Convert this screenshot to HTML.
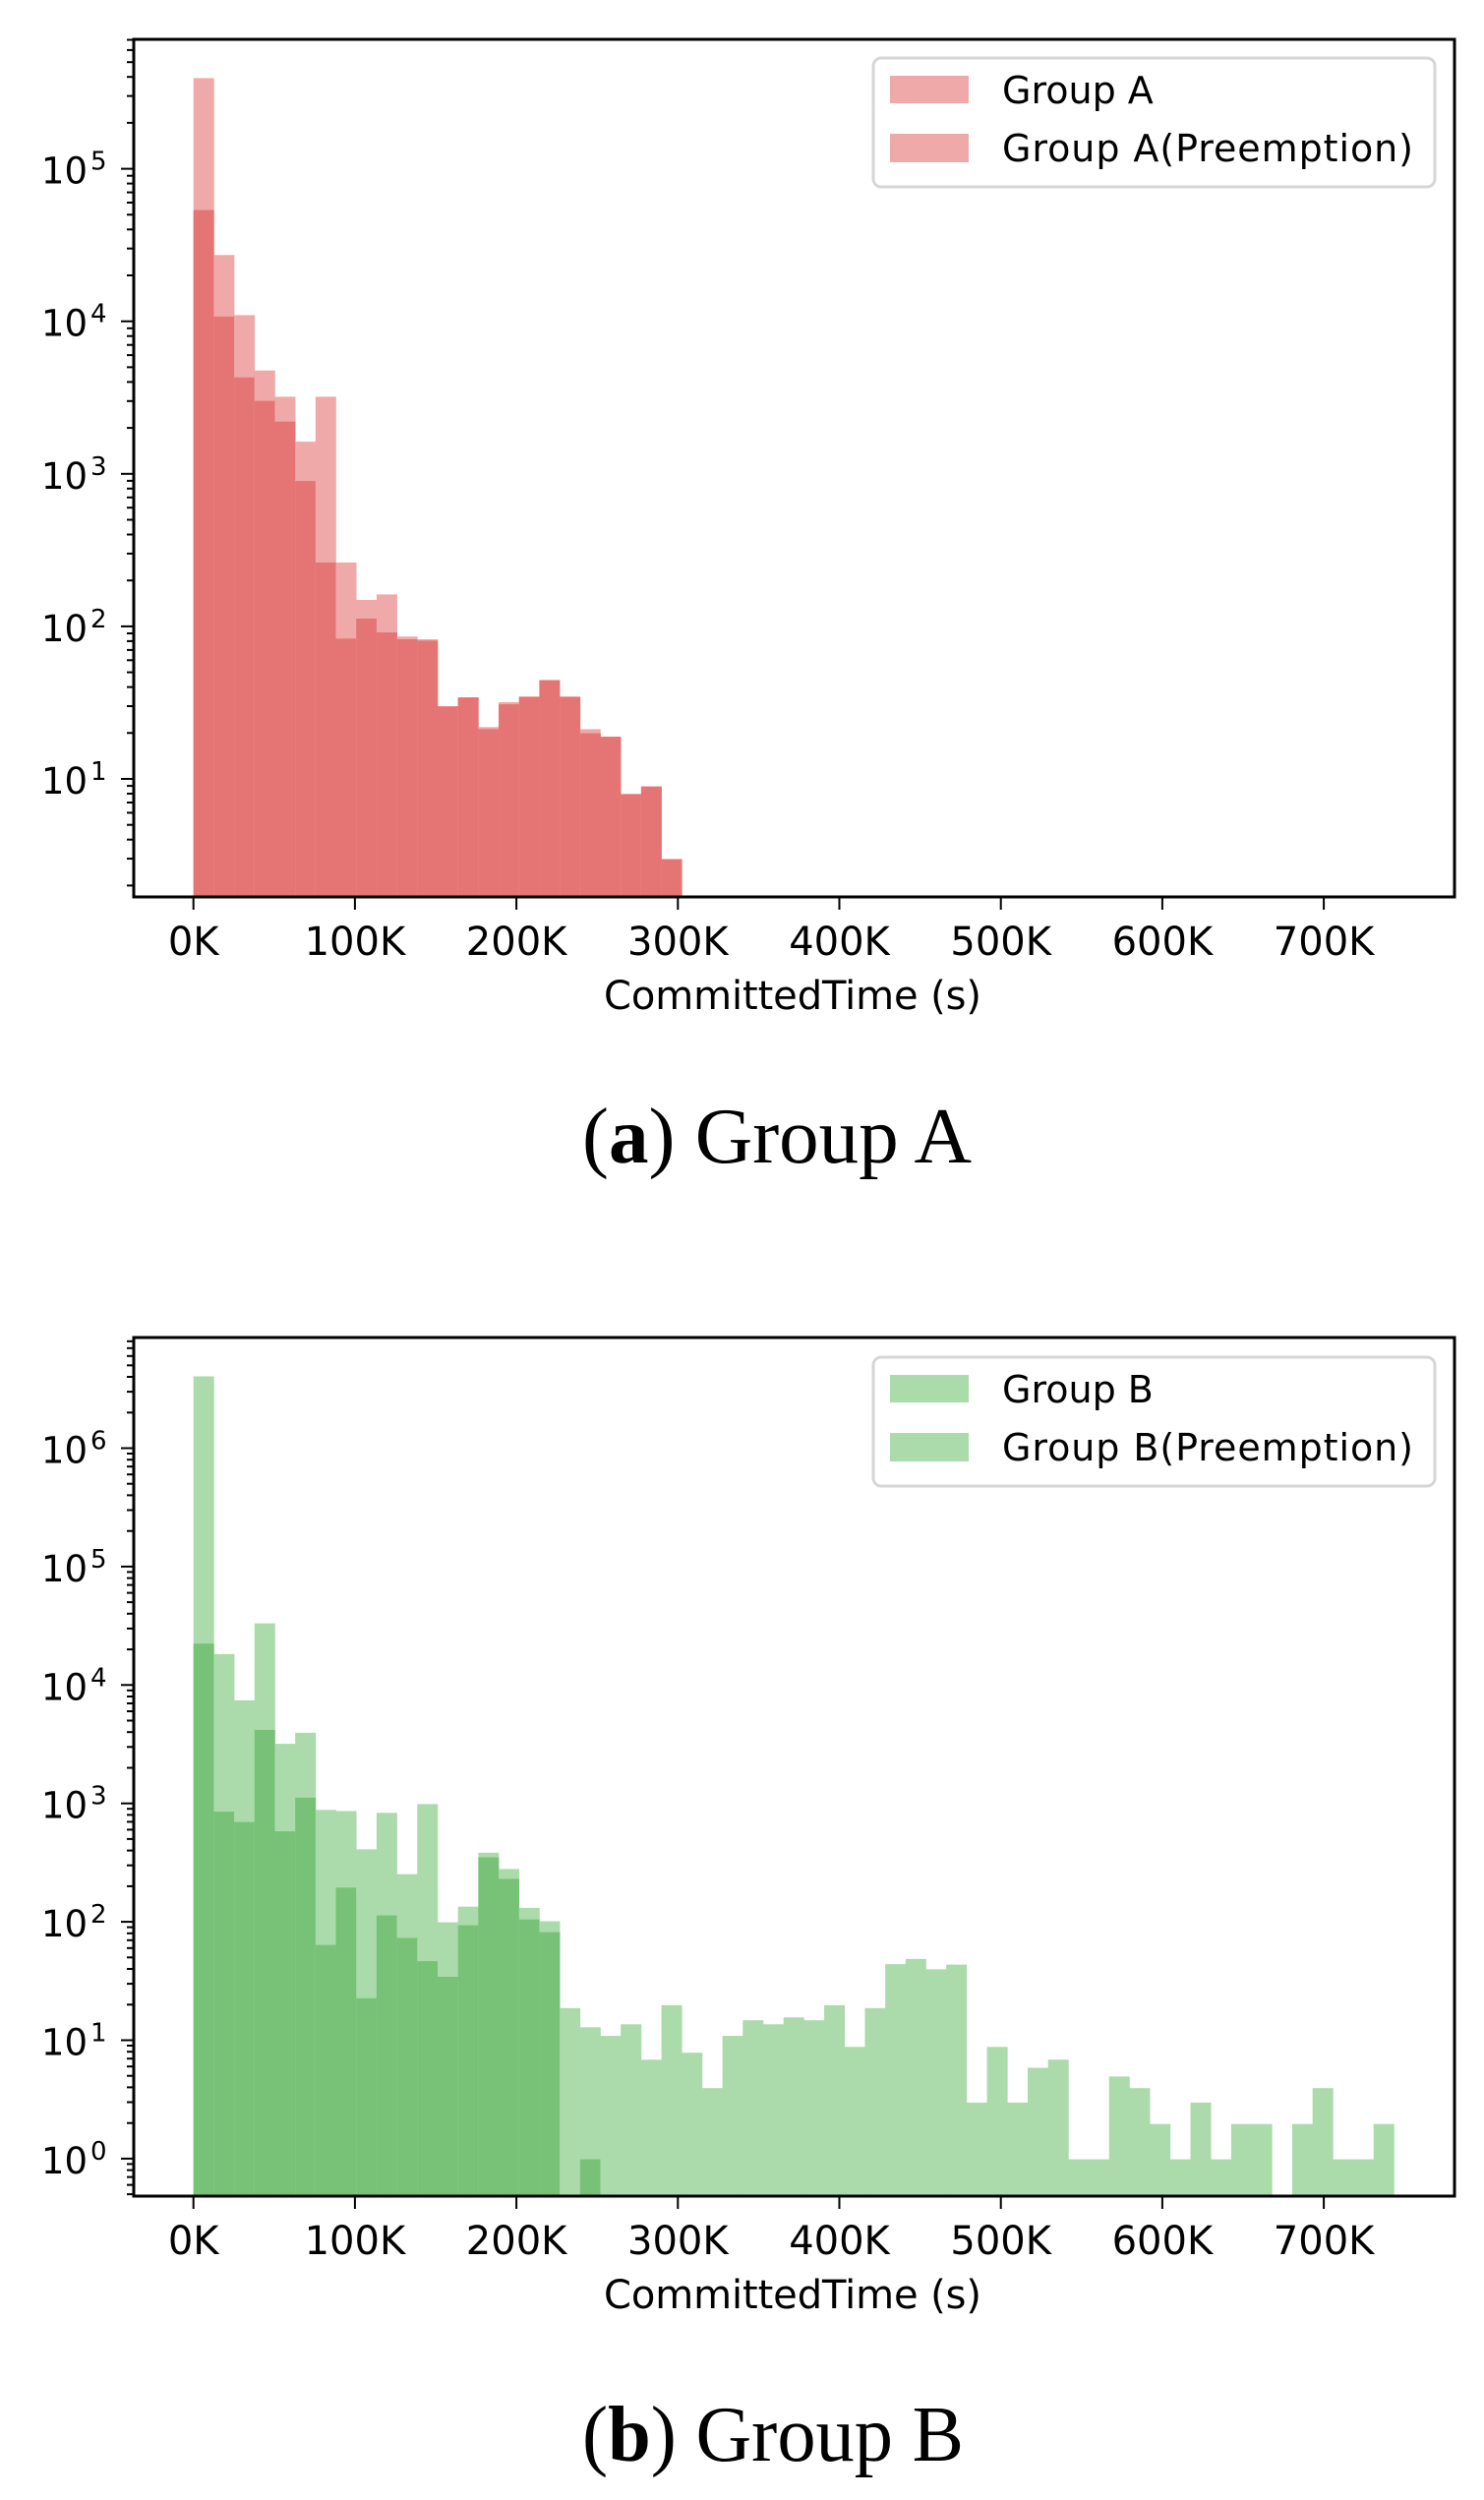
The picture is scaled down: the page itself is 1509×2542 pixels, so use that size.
<!DOCTYPE html>
<html><head><meta charset="utf-8"><style>
html,body{margin:0;padding:0;background:#fff;}
svg{display:block;}
text{font-family:"DejaVu Sans","Liberation Sans",sans-serif;fill:#000;}
.cap{font-family:"Liberation Serif",serif;}
</style></head><body>
<svg id="s" width="1509" height="2542" viewBox="0 0 1509 2542" xmlns="http://www.w3.org/2000/svg"></svg>
<script>
const S=document.getElementById('s');let h='';
const X0=196.7,W=20.69;
function bars(arr,base,col){ // arr of [light,dark] y
  arr.forEach((v,i)=>{const x=X0+i*W;
    if(v[0]!=null&&v[0]<base) h+=`<rect x="${x.toFixed(2)}" y="${v[0].toFixed(1)}" width="${(W+0.3).toFixed(2)}" height="${(base-v[0]).toFixed(1)}" fill="${col[0]}"/>`;
    if(v[1]!=null&&v[1]<base) h+=`<rect x="${x.toFixed(2)}" y="${v[1].toFixed(1)}" width="${(W+0.3).toFixed(2)}" height="${(base-v[1]).toFixed(1)}" fill="${col[1]}"/>`;
  });
}
function axes(top,bot,d0y,d0e,dec,emin,emax,lo,hi){
  // minor & major ticks
  for(let e=emin-1;e<=emax+1;e++){
    for(let m=1;m<10;m++){
      const lv=e+Math.log10(m); if(lv<lo||lv>hi) continue;
      const y=d0y-(lv-d0e)*dec;
      const len=m==1?13:7;
      h+=`<line x1="${136-len}" y1="${y.toFixed(1)}" x2="136" y2="${y.toFixed(1)}" stroke="#000" stroke-width="2"/>`;
      if(m==1&&e>=emin&&e<=emax){
        h+=`<text x="89" y="${(y+15).toFixed(1)}" font-size="37" text-anchor="end">10</text><text x="92" y="${(y+1).toFixed(1)}" font-size="26">${e}</text>`;
      }
    }
  }
  h+=`<rect x="136" y="${top}" width="1343" height="${bot-top}" fill="none" stroke="#000" stroke-width="3"/>`;
  const labs=['0K','100K','200K','300K','400K','500K','600K','700K'];
  labs.forEach((l,i)=>{const x=X0+i*164.2;
    h+=`<line x1="${x}" y1="${bot}" x2="${x}" y2="${bot+13}" stroke="#000" stroke-width="2"/>`;
    h+=`<text x="${x}" y="${bot+59}" font-size="40" text-anchor="middle">${l}</text>`;});
  h+=`<text x="806" y="${bot+114}" font-size="40" text-anchor="middle" textLength="384">CommittedTime (s)</text>`;
}
function legend(top,col,l1,l2){
  h+=`<rect x="888" y="${top}" width="571" height="131" rx="8" fill="#fff" fill-opacity="0.8" stroke="#d6d6d6" stroke-width="3"/>`;
  h+=`<rect x="905" y="${top+18}" width="80" height="28" fill="${col}"/><rect x="905" y="${top+77}" width="80" height="29" fill="${col}"/>`;
  h+=`<text x="1019" y="${top+46}" font-size="38">${l1}</text><text x="1019" y="${top+105}" font-size="38" textLength="418">${l2}</text>`;
}
// Plot A
const fa=1.423;
const A=[[113,304],[369,458],[456,546],[536,580],[574,610],[639,696],[574,814],[814,924],[868,895],[860,915],[921,925],[925,927],[1022,1022],[1009,1009],[1052,1055],[1016,1019],[1008,1008],[984,984],[1008,1008],[1055,1061],[1066,1066],[1149,1149],[1138,1138],[1243,1243]].map(v=>[v[0]/fa,v[1]/fa]);
bars(A,912,['#efa9a9','#e57575']);
axes(40,912,171.6,5,155.1,1,5,0.226,5.85);
legend(59,'#efa9a9','Group A','Group A(Preemption)');
h+=`<text class="cap" x="790" y="1182" font-size="80" text-anchor="middle" textLength="396" lengthAdjust="spacingAndGlyphs">(<tspan font-weight="bold">a</tspan>) Group A</text>`;
// Plot B
const fb=1.697,by=z=>z==null?null:1330+z/fb;
const B1=[[118,579],[597,869],[677,887],[544,728],[752,903],[733,845],[866,1099],[868,1000],[934,1191],[871,1048],[977,1087],[856,1127],[1060,1154],[1033,1065],[940,948],[968,985],[1035,1055],[1058,1077],[1208,null],[1241,1469]];
const L=[1256,1236,1297,1203,1285,1346,1256,1229,1236,1224,1229,1203,1275,1208,1132,1123,1141,1133,1371,1275,1371,1311,1297,1469,1469,1326,1346,1408,1469,1371,1469,1408,1408,null,1408,1346,1469,1469,1408];
const B=B1.map(v=>[by(v[0]),by(v[1])]).concat(L.map(z=>[by(z),null]));
bars(B,2233,['#abdaab','#78c278']);
axes(1360,2233,1472.5,6,120.4,0,6,-0.33,6.94);
legend(1380,'#abdaab','Group B','Group B(Preemption)');
h+=`<text class="cap" x="786" y="2502" font-size="80" text-anchor="middle" textLength="388" lengthAdjust="spacingAndGlyphs">(<tspan font-weight="bold">b</tspan>) Group B</text>`;
S.innerHTML=h;
</script>
</body></html>
